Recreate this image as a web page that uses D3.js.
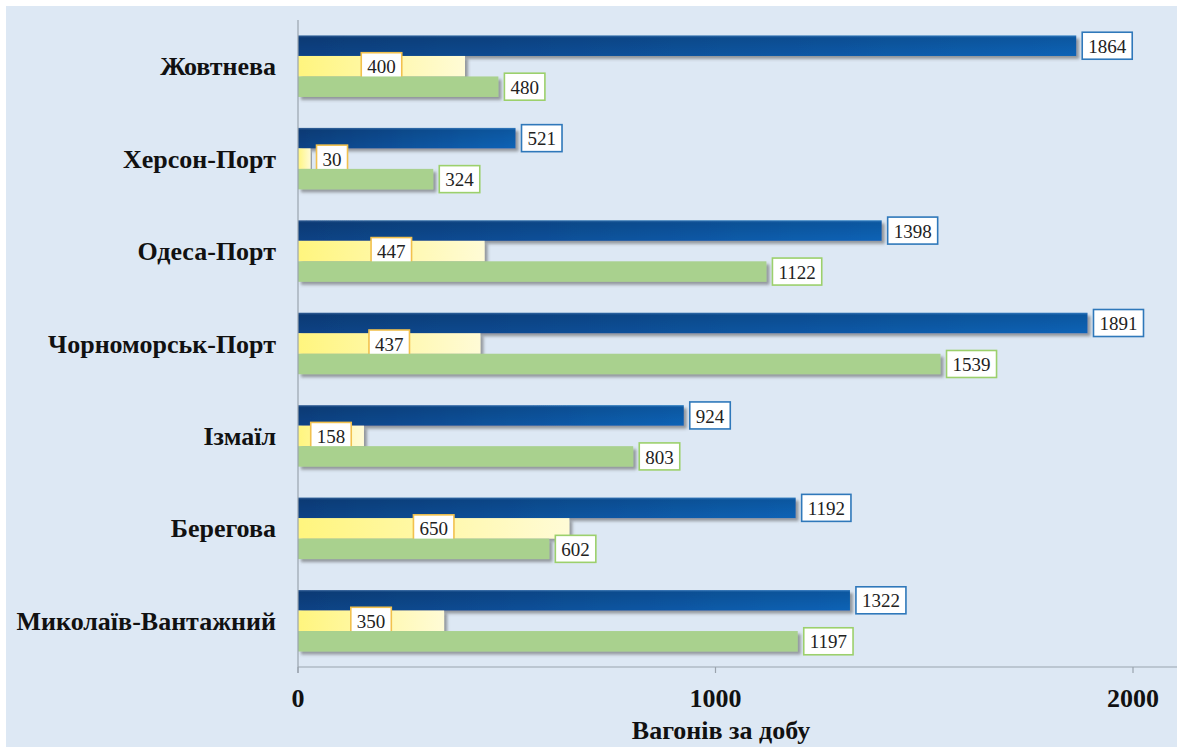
<!DOCTYPE html>
<html>
<head>
<meta charset="utf-8">
<script src="https://cdn.jsdelivr.net/npm/d3@7/dist/d3.min.js"></script>
<style>
  html, body { margin: 0; padding: 0; background: #ffffff; }
  svg { display: block; }
  text { font-family: "Liberation Serif", "DejaVu Serif", "Times New Roman", Times, serif; }
</style>
</head>
<body>
<svg id="chart" width="1177" height="747"></svg>
<script>
// Stations, top to bottom
const categories = ["Жовтнева", "Херсон-Порт", "Одеса-Порт", "Чорноморськ-Порт", "Ізмаїл", "Берегова", "Миколаїв-Вантажний"];
// Three series per station, wagons per day
const seriesBlue   = [1864, 521, 1398, 1891, 924, 1192, 1322];
const seriesYellow = [400, 30, 447, 437, 158, 650, 350];
const seriesGreen  = [480, 324, 1122, 1539, 803, 602, 1197];
const seriesKeys = ["blue", "yellow", "green"];
const xTicks = [0, 1000, 2000];
const axisTitle = "Вагонів за добу";

const seriesData = { blue: seriesBlue, yellow: seriesYellow, green: seriesGreen };

const W = 1177, H = 747;
const svg = d3.select("#chart");

// panel background
svg.append("rect").attr("x", 6).attr("y", 6).attr("width", W - 6).attr("height", H - 6).attr("fill", "#dde8f4");

const defs = svg.append("defs");
const shadow = defs.append("filter").attr("id", "shadow")
  .attr("x", "-5%").attr("y", "-30%").attr("width", "115%").attr("height", "180%");
shadow.append("feDropShadow").attr("dx", 3).attr("dy", 3).attr("stdDeviation", 1.6)
  .attr("flood-color", "#555").attr("flood-opacity", 0.55);

const gBlue = defs.append("linearGradient").attr("id", "gradBlue").attr("x1", 0).attr("y1", 0).attr("x2", 1).attr("y2", 0);
gBlue.append("stop").attr("offset", "0%").attr("stop-color", "#0a4284");
gBlue.append("stop").attr("offset", "100%").attr("stop-color", "#0763b6");
const gBlueV = defs.append("linearGradient").attr("id", "gradBlueV").attr("x1", 0).attr("y1", 0).attr("x2", 0).attr("y2", 1);
gBlueV.append("stop").attr("offset", "0%").attr("stop-color", "#ffffff").attr("stop-opacity", 0.18);
gBlueV.append("stop").attr("offset", "12%").attr("stop-color", "#000000").attr("stop-opacity", 0.12);
gBlueV.append("stop").attr("offset", "100%").attr("stop-color", "#000000").attr("stop-opacity", 0);

const gYellow = defs.append("linearGradient").attr("id", "gradYellow").attr("x1", 0).attr("y1", 0).attr("x2", 1).attr("y2", 0);
gYellow.append("stop").attr("offset", "0%").attr("stop-color", "#fff57e");
gYellow.append("stop").attr("offset", "100%").attr("stop-color", "#fffbd6");

const fills = { blue: "url(#gradBlue)", yellow: "url(#gradYellow)", green: "#a9d18e" };
const borders = { blue: "#2f78ba", yellow: "#f2c14e", green: "#9cd06c" };

const x = d3.scaleLinear().domain([0, 2000]).range([298, 1133]);
const y = d3.scaleBand().domain(categories).range([20, 667]).paddingInner(0.335).paddingOuter(0.1675);
const ySub = d3.scaleBand().domain(seriesKeys).range([0, y.bandwidth()]);

// bars
const groups = svg.append("g").selectAll("g").data(categories).join("g")
  .attr("transform", d => `translate(0,${y(d)})`);

const barRows = groups.selectAll("g.bar").data((c, i) => seriesKeys.map(k => ({ key: k, value: seriesData[k][i] })))
  .join("g").attr("class", "bar");

barRows.append("rect")
  .attr("x", x(0))
  .attr("y", d => ySub(d.key))
  .attr("width", d => x(d.value) - x(0))
  .attr("height", ySub.bandwidth())
  .attr("fill", d => fills[d.key])
  .attr("filter", "url(#shadow)");

barRows.filter(d => d.key === "blue").append("rect")
  .attr("x", x(0))
  .attr("y", d => ySub(d.key))
  .attr("width", d => x(d.value) - x(0))
  .attr("height", ySub.bandwidth())
  .attr("fill", "url(#gradBlueV)");

// axes
const axisColor = "#9aa3ad";
const xAxis = svg.append("g").attr("transform", `translate(0,667)`);
xAxis.append("line").attr("x1", x(0)).attr("x2", 1177).attr("y1", 0).attr("y2", 0).attr("stroke", axisColor).attr("stroke-width", 1.2);
xAxis.selectAll("line.tick").data(xTicks).join("line").attr("class", "tick")
  .attr("x1", d => x(d)).attr("x2", d => x(d)).attr("y1", 0).attr("y2", 6)
  .attr("stroke", axisColor).attr("stroke-width", 1.2);
xAxis.selectAll("text").data(xTicks).join("text")
  .attr("x", d => x(d)).attr("y", 40)
  .attr("text-anchor", "middle")
  .attr("font-weight", "bold").attr("font-size", 26).attr("fill", "#111")
  .text(d => d);

svg.append("line").attr("x1", x(0)).attr("x2", x(0)).attr("y1", 20).attr("y2", 673)
  .attr("stroke", axisColor).attr("stroke-width", 1.2);

svg.append("text").attr("x", 721).attr("y", 739).attr("text-anchor", "middle")
  .attr("font-weight", "bold").attr("font-size", 26).attr("fill", "#111")
  .text(axisTitle);

// category labels
svg.append("g").selectAll("text").data(categories).join("text")
  .attr("x", 276).attr("y", d => y(d) + y.bandwidth() / 2)
  .attr("dy", "0.35em").attr("text-anchor", "end")
  .attr("font-weight", "bold").attr("font-size", 26).attr("fill", "#111")
  .text(d => d);

// value labels
const padX = 6, boxH = 27, gap = 6;
barRows.each(function(d) {
  const g = d3.select(this);
  const t = g.append("text")
    .attr("font-size", 19).attr("fill", "#222")
    .attr("text-anchor", "middle").attr("dy", "0.35em")
    .text(d.value);
  const tw = t.node().getComputedTextLength();
  const bw = tw + 2 * padX;
  const barEnd = x(d.value);
  let cx;
  if (d.key === "yellow" && barEnd - x(0) > bw + 10) {
    cx = (x(0) + barEnd) / 2;
  } else {
    cx = barEnd + gap + bw / 2;
  }
  const cy = ySub(d.key) + ySub.bandwidth() / 2;
  g.insert("rect", "text")
    .attr("x", cx - bw / 2).attr("y", cy - boxH / 2)
    .attr("width", bw).attr("height", boxH)
    .attr("fill", "#ffffff").attr("stroke", borders[d.key]).attr("stroke-width", 1.6);
  t.attr("x", cx).attr("y", cy + 0.5);
});
</script>
</body>
</html>
